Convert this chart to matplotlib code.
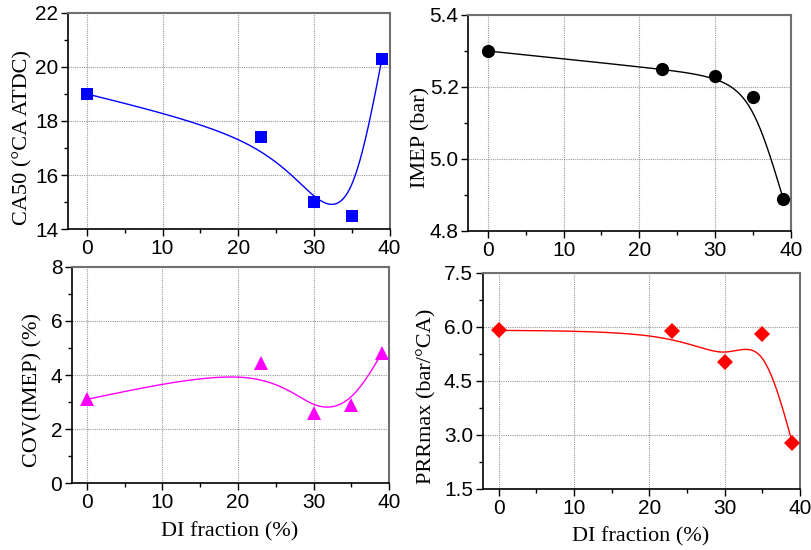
import matplotlib
matplotlib.use('Agg')
import matplotlib.pyplot as plt
import numpy as np
from matplotlib.ticker import MultipleLocator, FormatStrFormatter

# data
di = [0, 23, 30, 35, 39]
ca50 = [19.0, 17.4, 15.0, 14.5, 20.3]
imep = [5.30, 5.25, 5.23, 5.172, 4.89]
cov = [3.1, 4.45, 2.6, 2.9, 4.8]
prr = [5.9, 5.87, 5.03, 5.8, 2.77]


def bspline(x, y, n=60):
    # uniform cubic B-spline through the end points (Origin style line)
    x = np.asarray(x, float)
    y = np.asarray(y, float)
    px = np.r_[2 * x[0] - x[1], x, 2 * x[-1] - x[-2]]
    py = np.r_[2 * y[0] - y[1], y, 2 * y[-1] - y[-2]]
    t = np.linspace(0, 1, n)
    b = np.array([(1 - t) ** 3, 3 * t ** 3 - 6 * t ** 2 + 4,
                  -3 * t ** 3 + 3 * t ** 2 + 3 * t + 1, t ** 3]) / 6
    xs, ys = [], []
    for i in range(len(px) - 3):
        xs.append(b.T @ px[i:i + 4])
        ys.append(b.T @ py[i:i + 4])
    return np.concatenate(xs), np.concatenate(ys)


W, H = 811, 550
fig = plt.figure(figsize=(W / 100, H / 100), dpi=100, facecolor='white')


def make_ax(l, r, t, b):
    return fig.add_axes([l / W, 1 - b / H, (r - l) / W, (b - t) / H])


label_font = dict(family='Liberation Serif', size=16)

panels = [
    # box (l, r, t, b), xlim left, y, ylim, ymajor, fmt, color, marker, size, ylabel, label coords
    ((68, 389.5, 12.7, 229.3), -2.5, ca50, (14, 22), 2, '%d', '#0000ff', 's', 8,
     'CA50 (°CA ATDC)', (-0.112, 0.426), False),
    ((468.3, 790.7, 15, 231), -2.6, imep, (4.8, 5.4), 0.2, '%.1f', 'black', 'o', 9.5,
     'IMEP (bar)', (-0.118, 0.433), False),
    ((72, 389.3, 266.7, 483.3), -1.95, cov, (0, 8), 2, '%d', '#ff00ff', '^', 10,
     'COV(IMEP) (%)', (-0.092, 0.43), True),
    ((482.7, 800, 272.7, 489), -2.1, prr, (1.5, 7.5), 1.5, '%.1f', '#ff0000', 'D', 8.5,
     'PRRmax (bar/°CA)', (-0.145, 0.427), True),
]

for box, xl, yv, ylim, ymaj, fmt, col, mk, ms, ylab, lc, xlab in panels:
    ax = make_ax(*box)
    cx, cy = bspline(di, yv)
    ax.plot(cx, cy, color=col, lw=1.0, zorder=3)
    ax.plot(di, yv, linestyle='none', marker=mk, color=col, markersize=ms,
            markeredgewidth=0, zorder=4)
    ax.set_xlim(xl, 40)
    ax.set_ylim(*ylim)
    ax.xaxis.set_major_locator(MultipleLocator(10))
    ax.xaxis.set_minor_locator(MultipleLocator(5))
    ax.yaxis.set_major_locator(MultipleLocator(ymaj))
    ax.yaxis.set_minor_locator(MultipleLocator(ymaj / 2))
    ax.yaxis.set_major_formatter(FormatStrFormatter(fmt))
    ax.grid(True, which='major', color='#999999', linestyle=(0, (1, 1)), lw=0.8)
    ax.set_axisbelow(True)
    ax.tick_params(which='both', direction='out', top=False, right=False,
                   labelsize=15, width=1, pad=2)
    ax.tick_params(which='major', length=5)
    ax.tick_params(which='minor', length=3)
    for lbl in ax.get_xticklabels() + ax.get_yticklabels():
        lbl.set_family('Liberation Sans')
    for s in ('left', 'bottom'):
        ax.spines[s].set_color('black')
        ax.spines[s].set_linewidth(1.2)
    for s in ('top', 'right'):
        ax.spines[s].set_color('#707070')
        ax.spines[s].set_linewidth(1.5)
    ax.set_ylabel(ylab, **label_font)
    ax.yaxis.set_label_coords(*lc)
    if xlab:
        ax.set_xlabel('DI fraction (%)', **label_font)
        ax.xaxis.set_label_coords(0.498, -0.177)

fig.savefig('out.png', dpi=100, facecolor='white')
